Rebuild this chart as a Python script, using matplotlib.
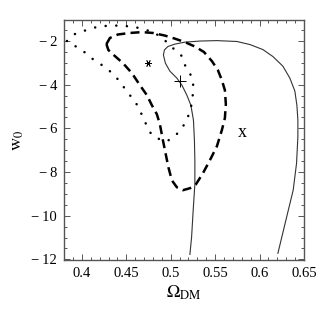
import numpy as np
import matplotlib.pyplot as plt
from matplotlib.ticker import MultipleLocator, FixedLocator, FixedFormatter

plt.rcParams['font.family'] = ['Liberation Serif', 'DejaVu Serif']
plt.rcParams['mathtext.fontset'] = 'stix'

# dotted contour
dot_om = [0.3831, 0.3921, 0.4034, 0.4146, 0.4259, 0.4372, 0.4484, 0.4597, 0.4709,
          0.4822, 0.4901, 0.4968, 0.5047, 0.5126, 0.5160, 0.5216, 0.5250, 0.5256,
          0.5239, 0.5227, 0.5182, 0.5126, 0.5047, 0.4957, 0.4901, 0.4833, 0.4785,
          0.4735, 0.4690, 0.4653, 0.4597, 0.4540, 0.4462, 0.4394, 0.4315, 0.4225,
          0.4124, 0.4045, 0.3955, 0.3865, 0.3831]
dot_w0 = [-2.00, -1.68, -1.52, -1.38, -1.31, -1.29, -1.31, -1.36, -1.47,
          -1.63, -1.86, -2.09, -2.41, -2.69, -3.10, -3.47, -3.83, -4.25,
          -4.75, -5.07, -5.62, -5.99, -6.36, -6.59, -6.56, -6.40, -6.30,
          -5.91, -5.53, -5.17, -4.75, -4.48, -4.06, -3.70, -3.38, -3.10,
          -2.83, -2.55, -2.32, -2.05, -2.00]

# dashed contour
dash_om = [0.4276, 0.4315, 0.4405, 0.4540, 0.4676, 0.4800, 0.4935, 0.5047, 0.5160,
           0.5272, 0.5374, 0.5464, 0.5531, 0.5576, 0.5610, 0.5621, 0.5610, 0.5576,
           0.5520, 0.5441, 0.5362, 0.5284, 0.5216, 0.5137, 0.5070, 0.5013, 0.4974,
           0.4935, 0.4912, 0.4878, 0.4844, 0.4788, 0.4732, 0.4653, 0.4563, 0.4462,
           0.4372, 0.4298, 0.4276]
dash_w0 = [-2.14, -1.86, -1.70, -1.63, -1.59, -1.63, -1.75, -1.89, -2.05,
           -2.25, -2.50, -2.92, -3.33, -3.79, -4.25, -4.89, -5.53, -6.08,
           -6.82, -7.46, -8.06, -8.56, -8.74, -8.83, -8.70, -8.38, -7.78,
           -7.00, -6.54, -5.81, -5.35, -4.94, -4.48, -4.02, -3.47, -3.01,
           -2.69, -2.41, -2.14]

# thin solid contour (open, cut by the plot range)
sol_om = [0.5216, 0.5235, 0.5253, 0.5272, 0.5272, 0.5267, 0.5256, 0.5227, 0.5182,
          0.5126, 0.5070, 0.4991, 0.4940, 0.4918, 0.4929, 0.4968, 0.5047, 0.5160,
          0.5329, 0.5520, 0.5745, 0.5892, 0.6038, 0.6151, 0.6263, 0.6342, 0.6398,
          0.6421, 0.6432, 0.6432, 0.6417, 0.6379, 0.6305, 0.6207]
sol_w0 = [-11.77, -10.99, -9.75, -8.56, -7.46, -6.54, -5.62, -4.94, -4.48,
          -4.02, -3.70, -3.38, -3.01, -2.64, -2.41, -2.25, -2.14, -2.05,
          -2.00, -1.98, -2.02, -2.16, -2.39, -2.71, -3.15, -3.70, -4.29,
          -4.94, -5.62, -6.40, -7.60, -8.83, -10.07, -11.72]

# best-fit points
star_pt = (0.474, -3.0)
plus_pt = (0.511, -3.84)
x_pt = (0.581, -6.18)

xticks = [0.4, 0.45, 0.5, 0.55, 0.6, 0.65]
xtick_labels = ['0.4', '0.45', '0.5', '0.55', '0.6', '0.65']
yticks = [-12, -10, -8, -6, -4, -2]
ytick_labels = ['\u2212\u200912', '\u2212\u200910', '\u2212\u20098',
                '\u2212\u20096', '\u2212\u20094', '\u2212\u20092']

fig = plt.figure(figsize=(3.24, 3.24), dpi=100)
ax = fig.add_axes([0.198, 0.198, 0.740, 0.740])

ax.plot(sol_om, sol_w0, color='#333333', lw=0.8)
ax.plot(dash_om, dash_w0, color='black', lw=1.8, ls=(0, (3.6, 2.1)))
ax.plot(dot_om, dot_w0, color='black', lw=1.8, ls=(0, (0.05, 4.2)),
        dash_capstyle='round')

ax.plot(*star_pt, marker=(6, 2, 90), ms=5, mew=0.6, color='black')
ax.plot(*plus_pt, marker='+', ms=8, mew=0.7, color='black')
ax.text(x_pt[0], x_pt[1], 'x', fontsize=13, ha='center', va='center')

ax.set_xlim(0.38, 0.65)
ax.set_ylim(-12.02, -1.04)

ax.xaxis.set_major_locator(FixedLocator(xticks))
ax.xaxis.set_major_formatter(FixedFormatter(xtick_labels))
ax.yaxis.set_major_locator(FixedLocator(yticks))
ax.yaxis.set_major_formatter(FixedFormatter(ytick_labels))
ax.xaxis.set_minor_locator(MultipleLocator(0.01))
ax.yaxis.set_minor_locator(MultipleLocator(0.5))

ax.tick_params(which='both', direction='in', top=True, right=True,
               color='#555555', width=0.7, labelsize=10.5, pad=5)
ax.tick_params(which='major', length=4)
ax.tick_params(which='minor', length=2)
for s in ax.spines.values():
    s.set_color('#555555')
    s.set_linewidth(1.0)

ax.set_xlabel(r'$\Omega_{\mathrm{DM}}$', fontsize=13, labelpad=3)
ax.set_ylabel(r'$\mathrm{w}_0$', fontsize=13, labelpad=4)

fig.savefig('out.png', dpi=100)
